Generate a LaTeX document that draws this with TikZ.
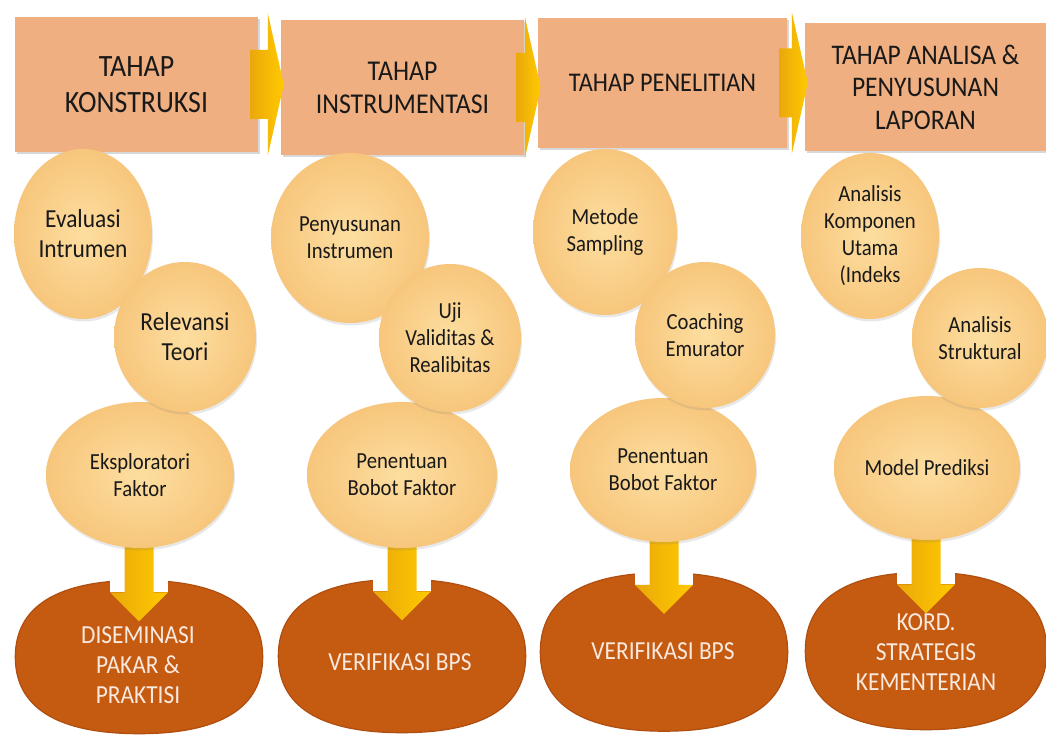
\documentclass[tikz,border=0pt]{standalone}
\usepackage{fontspec}
\setmainfont{Carlito}[FakeStretch=0.9]
\usetikzlibrary{calc,shadows,shapes.geometric}
\definecolor{hdr}{RGB}{240,175,128}
\definecolor{circin}{RGB}{253,222,160}
\definecolor{circout}{RGB}{247,198,124}
\definecolor{dark}{RGB}{197,90,17}
\definecolor{darkline}{RGB}{176,78,16}
\definecolor{gold}{RGB}{255,202,0}
\definecolor{goldd}{RGB}{234,168,10}
\definecolor{darktxt}{RGB}{250,233,222}
\definecolor{txt}{RGB}{25,25,25}
\pgfdeclarelayer{back}
\pgfdeclarelayer{mid}
\pgfsetlayers{back,mid,main}
\tikzset{
 hdrbox/.style={rectangle, fill=hdr, inner sep=0pt, align=center, text=txt,
   drop shadow={opacity=0.3, shadow xshift=1.5pt, shadow yshift=-2pt}},
 bubble/.style={ellipse, inner sep=-14pt, align=center, text=txt,
   inner color=circin, outer color=circout,
   drop shadow={opacity=0.18, shadow xshift=1pt, shadow yshift=-2.5pt},
   font=\fontsize{23}{27}\selectfont},
 bigtext/.style={font=\fontsize{26}{30}\selectfont},
 darkblob/.style={rectangle, inner sep=0pt},
 blobfill/.style={fill=dark, draw=darkline, line width=1.2pt},
 darklabel/.style={align=center, text=darktxt, inner sep=0pt, font=\fontsize{26}{30}\selectfont},
 topshade/.style={left color=goldd, right color=gold},
 dnshade/.style={left color=goldd, right color=gold},
}
\newcommand\hdrarrow[2]{%
 \path[topshade] ($(#1.east)+(-8,-34.5)$) -- ($(#2.west |- #1.east)+(-13,-34.5)$)
   -- ($(#2.west |- #1.east)+(-13,-71)$) -- ($(#2.west |- #1.east)+(3,0)$)
   -- ($(#2.west |- #1.east)+(-13,71)$) -- ($(#2.west |- #1.east)+(-13,34.5)$)
   -- ($(#1.east)+(-8,34.5)$) -- cycle;}
\newcommand\dnarrow[2]{%
 \fill[white] ($(#2.north)+(-29,-6)$) rectangle ($(#2.north)+(29,12)$);
 \path[dnshade] ($(#2.north |- #1.center)+(-14.5,0)$) -- ($(#2.north)+(-14.5,12)$)
   -- ($(#2.north)+(-29,12)$) -- ($(#2.north)+(0,41)$) -- ($(#2.north)+(29,12)$)
   -- ($(#2.north)+(14.5,12)$) -- ($(#2.north |- #1.center)+(14.5,0)$) -- cycle;}
\newcommand\blob[1]{%
 \path[blobfill] (#1.north)
  .. controls ($(#1.north)!0.66!(#1.north east)$) and ($(#1.east)!0.66!(#1.north east)$) .. (#1.east)
  .. controls ($(#1.east)!0.66!(#1.south east)$) and ($(#1.south)!0.66!(#1.south east)$) .. (#1.south)
  .. controls ($(#1.south)!0.66!(#1.south west)$) and ($(#1.west)!0.66!(#1.south west)$) .. (#1.west)
  .. controls ($(#1.west)!0.66!(#1.north west)$) and ($(#1.north)!0.66!(#1.north west)$) .. (#1.north)
  -- cycle;}
\begin{document}
\begin{tikzpicture}[x=1pt,y=-1pt]
\begin{pgfonlayer}{back}
\fill[white] (0,0) rectangle (1046,735);
\end{pgfonlayer}
\useasboundingbox (0,0) rectangle (1046,735);

% header boxes
\node[hdrbox, minimum width=243, minimum height=135, font=\fontsize{31}{36}\selectfont] (h1) at (136.5,84.5) {TAHAP\\KONSTRUKSI};
\node[hdrbox, minimum width=243, minimum height=135, font=\fontsize{28.7}{33}\selectfont] (h2) at (402.5,87.5) {TAHAP\\INSTRUMENTASI};
\node[hdrbox, minimum width=249, minimum height=130, font=\fontsize{27}{32}\selectfont] (h3) at (662.5,83) {TAHAP PENELITIAN};
\node[hdrbox, minimum width=241, minimum height=128, font=\fontsize{28.4}{32.5}\selectfont] (h4) at (925.5,87) {TAHAP ANALISA \&\\PENYUSUNAN\\LAPORAN};
\hdrarrow{h1}{h2}
\hdrarrow{h2}{h3}
\hdrarrow{h3}{h4}

% bottom blobs
\begin{pgfonlayer}{back}
\node[darkblob, minimum width=247, minimum height=153] (d1) at (139,657) {};
\node[darkblob, minimum width=247, minimum height=153] (d2) at (402,656) {};
\node[darkblob, minimum width=247, minimum height=158] (d3) at (664,652) {};
\node[darkblob, minimum width=241, minimum height=157] (d4) at (926,651) {};
\blob{d1}\blob{d2}\blob{d3}\blob{d4}
\end{pgfonlayer}
\node[darklabel] (d1t) at (138,665) {DISEMINASI\\PAKAR \&\\PRAKTISI};
\node[darklabel] (d2t) at (400,662.5) {VERIFIKASI BPS};
\node[darklabel] (d3t) at (663,651.5) {VERIFIKASI BPS};
\node[darklabel] (d4t) at (926,652.5) {KORD.\\STRATEGIS\\KEMENTERIAN};

% bubbles: column 1
\node[bubble, bigtext, minimum width=138, minimum height=170] (c11) at (83,234) {Evaluasi\\Intrumen};
\node[bubble, minimum width=188, minimum height=146] (c13) at (140,475) {Eksploratori\\Faktor};
\node[bubble, bigtext, minimum width=142, minimum height=150] (c12) at (185,337) {Relevansi\\Teori};
% column 2
\node[bubble, minimum width=158, minimum height=170] (c21) at (350,238) {Penyusunan\\Instrumen};
\node[bubble, minimum width=190, minimum height=146] (c23) at (402,475) {Penentuan\\Bobot Faktor};
\node[bubble, minimum width=142, minimum height=148] (c22) at (450,338) {Uji\\Validitas \&\\Realibitas};
% column 3
\node[bubble, minimum width=144, minimum height=166] (c31) at (605,232) {Metode\\Sampling};
\node[bubble, minimum width=186, minimum height=144] (c33) at (663,470) {Penentuan\\Bobot Faktor};
\node[bubble, minimum width=140, minimum height=146] (c32) at (705,335) {Coaching\\Emurator};
% column 4
\node[bubble, minimum width=138, minimum height=166] (c41) at (870,236) {Analisis\\Komponen\\Utama\\(Indeks};
\node[bubble, minimum width=186, minimum height=144] (c43) at (927,468) {Model Prediksi};
\node[bubble, minimum width=136, minimum height=140] (c42) at (980,338) {Analisis\\Struktural};

% down arrows
\begin{pgfonlayer}{mid}
\dnarrow{c13}{d1}
\dnarrow{c23}{d2}
\dnarrow{c33}{d3}
\dnarrow{c43}{d4}
\end{pgfonlayer}
\end{tikzpicture}
\end{document}
